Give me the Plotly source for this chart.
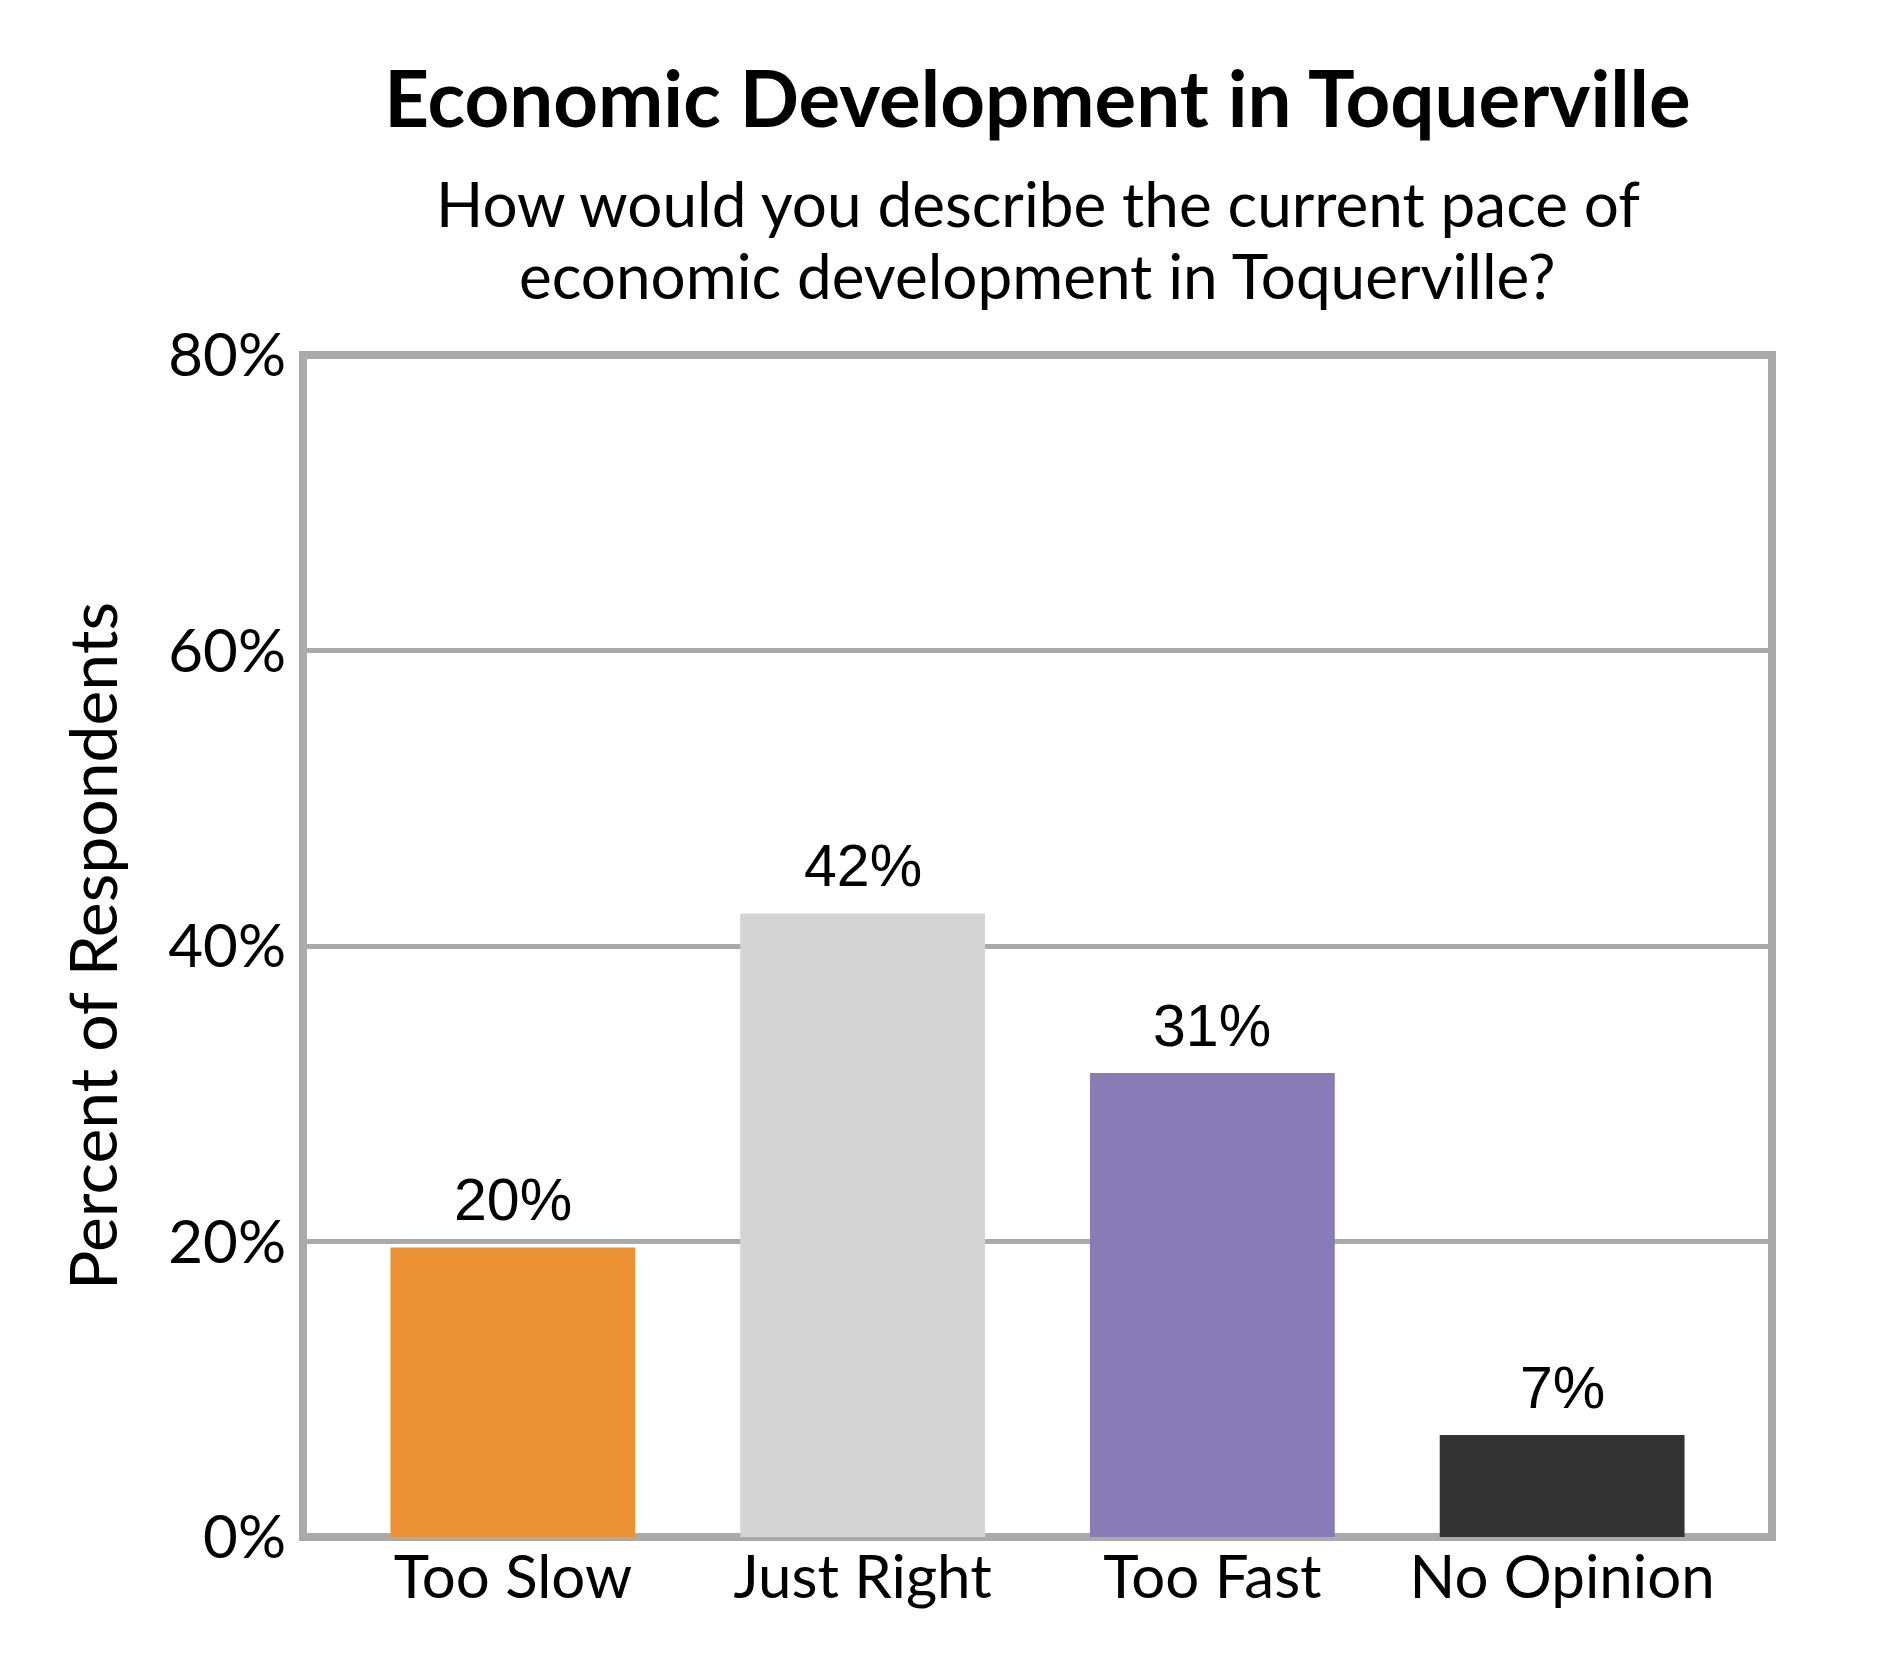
import plotly.graph_objects as go

categories = ["Too Slow", "Just Right", "Too Fast", "No Opinion"]
values = [19.6, 42.2, 31.4, 6.9]
bar_colors = ["#EB9234", "#D4D4D4", "#897BB5", "#333333"]
y_ticks = [0, 20, 40, 60, 80]
y_tick_labels = ["0%", "20%", "40%", "60%", "80%"]

title_text = "Economic Development in Toquerville"
subtitle_lines = ["How would you describe the current pace of",
                  "economic development in Toquerville?"]
y_title = "Percent of Respondents"

# page body has an 8px offset; compensate so the picture lands where intended
OFF = 8
W, H = 1890 - OFF, 1680 - OFF
ML, MR, MT, MB = 303 - OFF, 118, 355 - OFF, 143
PLOT_TOP, PLOT_BOT = 355, 1537
PLOT_H = PLOT_BOT - PLOT_TOP
FRAME = "#AAAAAA"

fig = go.Figure()
fig.add_trace(go.Bar(
    x=list(range(len(categories))),
    y=values,
    marker=dict(color=bar_colors, line=dict(width=0)),
    width=0.7,
    hoverinfo="skip",
))

annotations = []
for i, v in enumerate(values):
    annotations.append(dict(
        x=i, y=v, xref="x", yref="y",
        text=f"{round(v)}%",
        showarrow=False, xanchor="center", yanchor="bottom", yshift=12,
        font=dict(family="Liberation Sans, Arial, sans-serif", size=59, color="#000000"),
    ))

sub_baselines = [227, 299]
SUB_SIZE = 62
for line, base in zip(subtitle_lines, sub_baselines):
    ymid = base - 0.39 * SUB_SIZE
    annotations.append(dict(
        text=line,
        x=0.5, xref="paper", xanchor="center",
        y=(PLOT_BOT - ymid) / PLOT_H, yref="paper", yanchor="middle",
        showarrow=False,
        font=dict(family="Lato, sans-serif", size=SUB_SIZE, color="#000000"),
    ))

fig.update_layout(
    width=W, height=H,
    margin=dict(l=ML, r=MR, t=MT, b=MB, autoexpand=False),
    paper_bgcolor="white", plot_bgcolor="white",
    showlegend=False,
    font=dict(family="Lato, sans-serif", color="#000000"),
    title=dict(
        text="<b>" + title_text + "</b>",
        x=0.5, xref="paper", xanchor="center",
        y=1 - (100 - OFF) / H, yref="container", yanchor="middle",
        font=dict(family="Lato, sans-serif", size=78, color="#000000"),
    ),
    annotations=annotations,
    shapes=[dict(
        type="rect", xref="paper", yref="paper", x0=0, x1=1, y0=0, y1=1,
        line=dict(color=FRAME, width=8), fillcolor="rgba(0,0,0,0)",
        layer="between",
    )],
)

fig.update_xaxes(
    range=[-0.6, 3.6],
    tickmode="array",
    tickvals=list(range(len(categories))),
    ticktext=categories,
    tickfont=dict(family="Lato, sans-serif", size=60, color="#000000"),
    showgrid=False, zeroline=False,
    showline=True, linecolor="rgba(0,0,0,0)", linewidth=8,
    ticks="", layer="below traces",
    ticklabelstandoff=-19,
)
fig.update_yaxes(
    range=[0, 80],
    tickmode="array",
    tickvals=y_ticks,
    ticktext=y_tick_labels,
    tickfont=dict(family="Lato, sans-serif", size=60, color="#000000"),
    showgrid=True, gridcolor=FRAME, gridwidth=5,
    zeroline=False,
    showline=True, linecolor="rgba(0,0,0,0)", linewidth=8,
    ticks="", layer="below traces",
    ticklabelstandoff=-3,
    title=dict(text=y_title, font=dict(family="Lato, sans-serif", size=66, color="#000000"), standoff=32),
)

fig.write_html("out.html")
